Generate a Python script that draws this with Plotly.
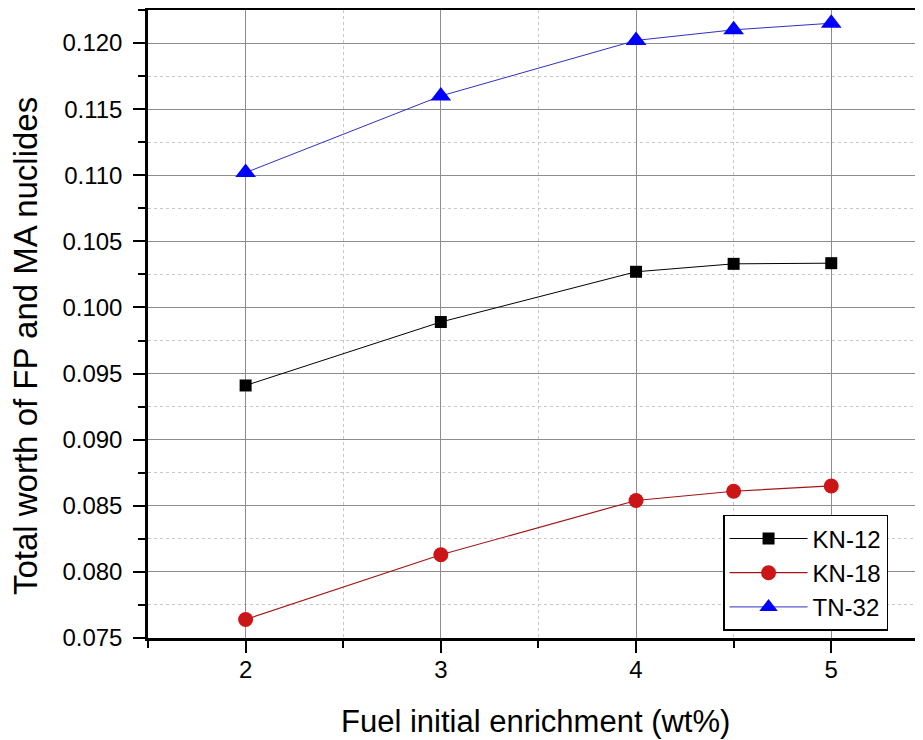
import plotly.graph_objects as go

enrichment = [2, 3, 4, 4.5, 5]
kn12 = [0.0941, 0.0989, 0.1027, 0.1033, 0.10335]
kn18 = [0.0764, 0.0813, 0.0854, 0.0861, 0.0865]
tn32 = [0.1102, 0.1160, 0.1202, 0.1210, 0.1215]

x_ticks = [2, 3, 4, 5]
y_ticks = [0.075, 0.080, 0.085, 0.090, 0.095, 0.100, 0.105, 0.110, 0.115, 0.120]

FONT = "Liberation Sans, Arial, sans-serif"

fig = go.Figure()
fig.add_trace(go.Scatter(
    x=enrichment, y=kn12, name="KN-12", mode="lines+markers",
    line=dict(color="black", width=1),
    marker=dict(symbol="square", size=12, color="black"),
))
fig.add_trace(go.Scatter(
    x=enrichment, y=kn18, name="KN-18", mode="lines+markers",
    line=dict(color="#a31515", width=1.2),
    marker=dict(symbol="circle", size=15, color="#cc1517"),
))
fig.add_trace(go.Scatter(
    x=enrichment, y=tn32, name="TN-32", mode="lines+markers",
    line=dict(color="#3030c0", width=1),
    marker=dict(symbol="triangle-up", size=18, color="#0000ff"),
))

# page body has an 8px default margin, so the figure is drawn 8px smaller
fig.update_layout(
    width=915, height=732, autosize=False,
    margin=dict(l=140, r=0, t=2, b=102),
    paper_bgcolor="white", plot_bgcolor="white",
    font=dict(family=FONT, color="black", size=24),
    showlegend=True,
    legend=dict(
        x=0.742, y=0.196, xanchor="left", yanchor="top",
        bgcolor="white", bordercolor="black", borderwidth=1.5,
        font=dict(size=24, family=FONT, color="black"),
        tracegroupgap=0, itemwidth=78,
    ),
    xaxis=dict(
        range=[1.5, 5.47], tickvals=x_ticks, ticktext=[str(v) for v in x_ticks],
        showline=True, linecolor="black", linewidth=2.5, mirror=True,
        ticks="outside", ticklen=12, tickwidth=2, tickcolor="black",
        showgrid=True, gridcolor="#8c8c8c", gridwidth=1,
        zeroline=False, automargin=False, ticklabelstandoff=-4,
        tickfont=dict(size=24, family=FONT),
        minor=dict(dtick=0.5, tick0=1.5, ticks="outside", ticklen=7, tickwidth=2, tickcolor="black",
                   showgrid=True, gridcolor="#c8c8c8", griddash="dot", gridwidth=1),
    ),
    yaxis=dict(
        range=[0.075, 0.1225], tickvals=y_ticks, ticktext=[f"{v:.3f}" for v in y_ticks],
        showline=True, linecolor="black", linewidth=2.5, mirror=False,
        ticks="outside", ticklen=12, tickwidth=2, tickcolor="black",
        showgrid=True, gridcolor="#8c8c8c", gridwidth=1,
        zeroline=False, automargin=False, ticklabelstandoff=6,
        tickfont=dict(size=24, family=FONT),
        minor=dict(dtick=0.0025, tick0=0.075, ticks="outside", ticklen=7, tickwidth=2, tickcolor="black",
                   showgrid=True, gridcolor="#c8c8c8", griddash="dot", gridwidth=1),
    ),
)

# axis titles
fig.add_annotation(
    text="Fuel initial enrichment (wt%)", xref="paper", yref="paper",
    x=0.5, y=0, yshift=-64, xanchor="center", yanchor="top", showarrow=False,
    font=dict(size=31, family=FONT, color="black"),
)
fig.add_annotation(
    text="Total worth of FP and MA nuclides", xref="paper", yref="paper",
    x=0, y=0.464, xshift=-143, xanchor="left", yanchor="middle", showarrow=False,
    textangle=-90, font=dict(size=33, family=FONT, color="black"),
)

fig.write_html("out.html")
